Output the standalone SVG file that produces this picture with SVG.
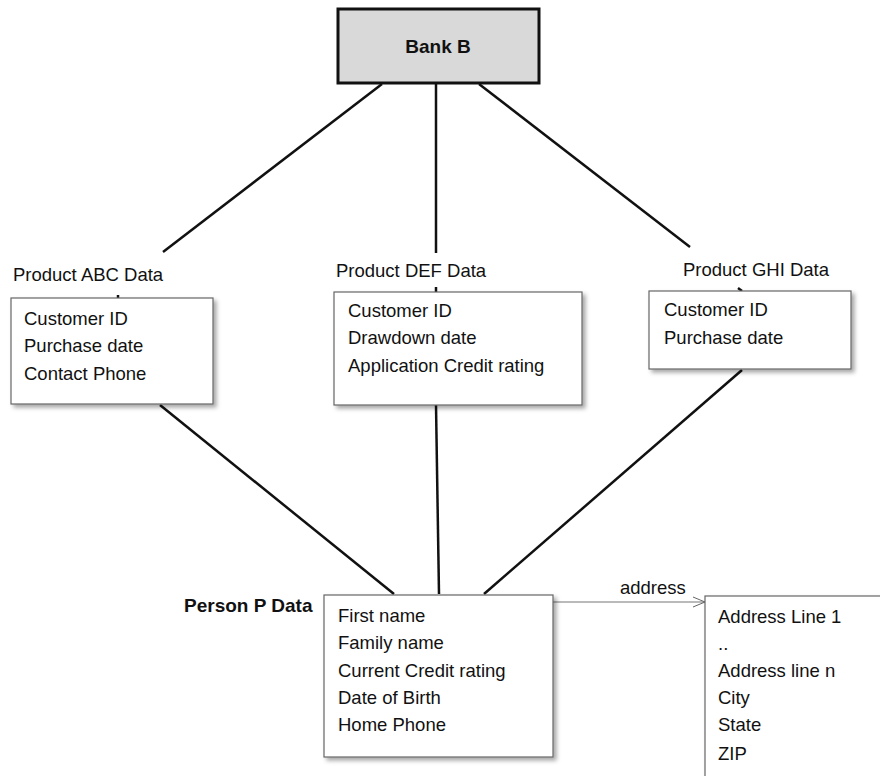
<svg xmlns="http://www.w3.org/2000/svg" width="880" height="776" viewBox="0 0 880 776">
<defs>
<filter id="sh" x="-10%" y="-10%" width="130%" height="130%">
<feDropShadow dx="3" dy="3" stdDeviation="2" flood-color="#000" flood-opacity="0.35"/>
</filter>
<marker id="open" markerWidth="14" markerHeight="12" refX="13" refY="6" orient="auto" markerUnits="userSpaceOnUse">
<path d="M1,1 L13,6 L1,11" fill="none" stroke="#666" stroke-width="1"/>
</marker>
<style>
text{font-family:"Liberation Sans",Arial,sans-serif;font-size:18.5px;fill:#111}
.b{font-weight:bold;font-size:19px}
.box{fill:#fff;stroke:#666;stroke-width:1.2;filter:url(#sh)}
.bank{fill:#d9d9d9;stroke:#111;stroke-width:3}
.c{stroke:#111;stroke-width:2.5;fill:none}
.thin{stroke:#777;stroke-width:1.2;fill:none}
</style>
</defs>
<g id="connectors">
<line class="c" x1="382" y1="84" x2="163" y2="252"/>
<line class="c" x1="436" y1="84" x2="436" y2="253"/>
<line class="c" x1="479" y1="84" x2="690" y2="247"/>
<line class="c" x1="118" y1="295" x2="118" y2="298"/>
<line class="c" x1="436" y1="287" x2="436" y2="292"/>
<line class="c" x1="738" y1="288" x2="742" y2="291"/>
<line class="c" x1="160" y1="405" x2="394" y2="594"/>
<line class="c" x1="436" y1="405" x2="439" y2="594"/>
<line class="c" x1="742" y1="370" x2="484" y2="594"/>
<line class="thin" x1="553" y1="602" x2="705" y2="602" marker-end="url(#open)"/>
<text x="620" y="594">address</text>
</g>
<g id="bank-b">
<rect class="bank" x="338" y="9" width="201" height="74"/>
<text class="b" x="438" y="53" text-anchor="middle">Bank B</text>
</g>
<g id="product-abc">
<text x="13" y="281">Product ABC Data</text>
<rect class="box" x="11" y="298" width="202" height="106"/>
<text x="24" y="325">Customer ID</text>
<text x="24" y="352">Purchase date</text>
<text x="24" y="380">Contact Phone</text>
</g>
<g id="product-def">
<text x="336" y="277">Product DEF Data</text>
<rect class="box" x="334" y="292" width="248" height="113"/>
<text x="348" y="317">Customer ID</text>
<text x="348" y="344">Drawdown date</text>
<text x="348" y="372">Application Credit rating</text>
</g>
<g id="product-ghi">
<text x="683" y="276">Product GHI Data</text>
<rect class="box" x="649" y="291" width="202" height="78"/>
<text x="664" y="316">Customer ID</text>
<text x="664" y="344">Purchase date</text>
</g>
<g id="person-p">
<text class="b" x="184" y="612">Person P Data</text>
<rect class="box" x="324" y="595" width="229" height="162"/>
<text x="338" y="622">First name</text>
<text x="338" y="649">Family name</text>
<text x="338" y="677">Current Credit rating</text>
<text x="338" y="704">Date of Birth</text>
<text x="338" y="731">Home Phone</text>
</g>
<g id="address">
<rect class="box" x="705" y="596" width="190" height="200"/>
<text x="718" y="623">Address Line 1</text>
<text x="718" y="650">..</text>
<text x="718" y="677">Address line n</text>
<text x="718" y="704">City</text>
<text x="718" y="731">State</text>
<text x="718" y="760">ZIP</text>
</g>
</svg>
